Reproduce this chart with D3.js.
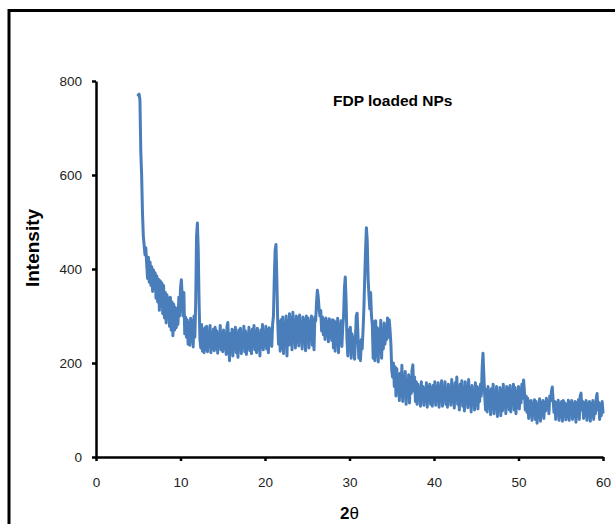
<!DOCTYPE html>
<html>
<head>
<meta charset="utf-8">
<script src="https://cdn.jsdelivr.net/npm/d3@7"></script>
<style>
  html, body { margin: 0; padding: 0; background: #fff; }
  svg { display: block; }
</style>
</head>
<body>
<script>
// XRD pattern of FDP loaded nanoparticles, sampled every 0.1 degree of 2θ
const angleStart = 5.0;
const angleStep = 0.1;
const intensity = [
  770, 772, 760, 650, 600, 520, 470, 450, 430, 445,   // 5
  410, 380, 425, 372, 415, 365, 405, 352, 398, 360,   // 6
  392, 338, 385, 330, 378, 312, 375, 320, 370, 305,   // 7
  365, 296, 350, 285, 345, 300, 338, 278, 340, 270,   // 8
  330, 258, 325, 270, 318, 275, 310, 282, 340, 300,   // 9
  360, 377, 345, 300, 350, 262, 298, 255, 292, 240,   // 10
  285, 238, 295, 245, 290, 234, 300, 255, 330, 470,   // 11
  498, 440, 330, 250, 232, 282, 225, 270, 222, 275,   // 12
  228, 278, 224, 265, 235, 280, 222, 262, 230, 272,   // 13
  226, 276, 232, 268, 221, 258, 235, 280, 228, 265,   // 14
  224, 270, 230, 262, 218, 278, 286, 240, 205, 262,   // 15
  225, 272, 215, 268, 230, 276, 222, 264, 212, 270,   // 16
  228, 274, 220, 262, 234, 278, 224, 268, 218, 260,   // 17
  232, 276, 226, 266, 220, 272, 235, 280, 228, 268,   // 18
  222, 274, 230, 262, 215, 270, 236, 282, 228, 266,   // 19
  236, 278, 230, 270, 222, 275, 240, 272, 235, 282,   // 20
  300, 380, 440, 452, 380, 290, 240, 288, 225, 292,   // 21
  232, 298, 220, 286, 245, 300, 215, 290, 238, 305,   // 22
  240, 296, 228, 308, 250, 290, 232, 300, 244, 296,   // 23
  236, 302, 248, 288, 230, 298, 252, 292, 226, 300,   // 24
  245, 296, 232, 288, 250, 300, 238, 292, 228, 298,   // 25
  290, 330, 355, 340, 315, 300, 312, 268, 298, 260,   // 26
  292, 250, 296, 262, 288, 245, 294, 255, 290, 248,   // 27
  292, 232, 290, 225, 285, 240, 295, 222, 282, 250,   // 28
  290, 235, 275, 300, 360, 383, 330, 250, 215, 270,   // 29
  240, 276, 210, 262, 226, 255, 208, 250, 300, 306,   // 30
  260, 210, 245, 205, 250, 230, 268, 315, 380, 440,   // 31
  488, 460, 380, 345, 315, 350, 300, 282, 210, 288,   // 32
  205, 290, 215, 275, 202, 270, 225, 291, 210, 268,   // 33
  230, 285, 240, 270, 250, 296, 255, 292, 270, 240,   // 34
  185, 170, 200, 150, 192, 130, 188, 140, 175, 120,   // 35
  178, 130, 195, 118, 170, 135, 182, 112, 165, 128,   // 36
  175, 115, 168, 135, 185, 196, 140, 170, 118, 160,   // 37
  112, 155, 120, 148, 108, 160, 125, 150, 110, 145,   // 38
  118, 158, 106, 150, 125, 155, 112, 148, 108, 152,   // 39
  120, 160, 110, 145, 128, 158, 106, 150, 118, 162,   // 40
  108, 150, 125, 160, 112, 146, 106, 155, 120, 148,   // 41
  110, 165, 118, 150, 104, 158, 125, 170, 112, 148,   // 42
  100, 155, 120, 162, 108, 145,  98, 160, 115, 150,   // 43
  105, 165, 112, 145,  96, 152, 118, 140, 100, 158,   // 44
  110, 150, 102, 145, 118, 155, 130, 190, 221, 175,   // 45
  130, 100, 143,  96, 150, 108, 140,  90, 145, 104,   // 46
  155,  92, 140, 110, 150,  86, 135, 100, 148,  88,   // 47
  142,  98, 155, 105, 138,  92, 150, 110, 145, 100,   // 48
  152,  96, 140, 118, 155, 100, 148,  92, 138, 105,   // 49
  150, 102, 145, 115, 155, 125, 164, 140, 100, 130,   // 50
   95, 125,  82, 118,  90, 120,  78, 112,  94, 122,   // 51
   80, 118,  72, 110,  88, 124,  76, 115,  92, 120,   // 52
   82, 116,  98, 125, 105, 118,  92, 130, 120, 140,   // 53
  149, 120,  95, 118,  80, 115,  92, 121,  78, 112,   // 54
   86, 118,  76, 120,  90, 115,  79, 110,  85, 121,   // 55
   78, 116,  92, 120,  80, 112,  86, 118,  74, 115,   // 56
   90, 122,  80, 130, 136, 100, 118,  82, 115,  88,   // 57
  120,  78, 112,  92, 118,  76, 114,  86, 120,  80,   // 58
  110,  92, 125, 135, 100, 116,  80, 112,  88, 118,   // 59
   95                                                 // 60
];
const xTicks = [0, 10, 20, 30, 40, 50, 60];
const yTicks = [0, 200, 400, 600, 800];

const width = 615, height = 524;
const svg = d3.select("body").append("svg")
  .attr("width", width).attr("height", height);

// outer chart frame
svg.append("rect")
  .attr("x", 9).attr("y", 10.5)
  .attr("width", 640).attr("height", 560)
  .attr("fill", "none").attr("stroke", "#000").attr("stroke-width", 3);

const x = d3.scaleLinear().domain([0, 60]).range([96, 603]);
const y = d3.scaleLinear().domain([0, 800]).range([457, 81]);

const points = intensity.map((v, i) => [angleStart + i * angleStep, v]);

const line = d3.line().x(d => x(d[0])).y(d => y(d[1]));

svg.append("path")
  .datum(points)
  .attr("d", line)
  .attr("fill", "none")
  .attr("stroke", "#4a7ebb")
  .attr("stroke-width", 3)
  .attr("stroke-linejoin", "round")
  .attr("stroke-linecap", "round");

// axes
const yAxis = svg.append("g")
  .attr("transform", `translate(${x(0)},0)`)
  .call(d3.axisLeft(y).tickValues(yTicks).tickSize(4).tickSizeOuter(0).tickPadding(10));
const xAxis = svg.append("g")
  .attr("transform", `translate(0,${y(0)})`)
  .call(d3.axisBottom(x).tickValues(xTicks).tickSize(4).tickSizeOuter(0).tickPadding(16));

[yAxis, xAxis].forEach(g => {
  g.select(".domain").attr("stroke", "#000").attr("stroke-width", 2.5);
  g.selectAll(".tick line").attr("stroke", "#000").attr("stroke-width", 2.5);
  g.selectAll(".tick text")
    .attr("fill", "#222")
    .style("font-family", "'Liberation Sans', Arial, sans-serif")
    .style("font-size", "13.5px");
});

// axis titles
svg.append("text")
  .attr("transform", "translate(39,248) rotate(-90)")
  .attr("text-anchor", "middle")
  .style("font-family", "'Liberation Sans', Arial, sans-serif")
  .style("font-size", "19px")
  .style("font-weight", "bold")
  .text("Intensity");

const xt = svg.append("text")
  .attr("x", x(30)).attr("y", 519)
  .attr("text-anchor", "middle")
  .style("font-family", "'Liberation Sans', Arial, sans-serif")
  .style("font-size", "17px");
xt.append("tspan").style("font-weight", "bold").text("2");
xt.append("tspan").text("θ");

// chart title
svg.append("text")
  .attr("x", 333).attr("y", 106)
  .style("font-family", "'Liberation Sans', Arial, sans-serif")
  .style("font-size", "15.5px")
  .style("font-weight", "bold")
  .text("FDP loaded NPs");
</script>
</body>
</html>
